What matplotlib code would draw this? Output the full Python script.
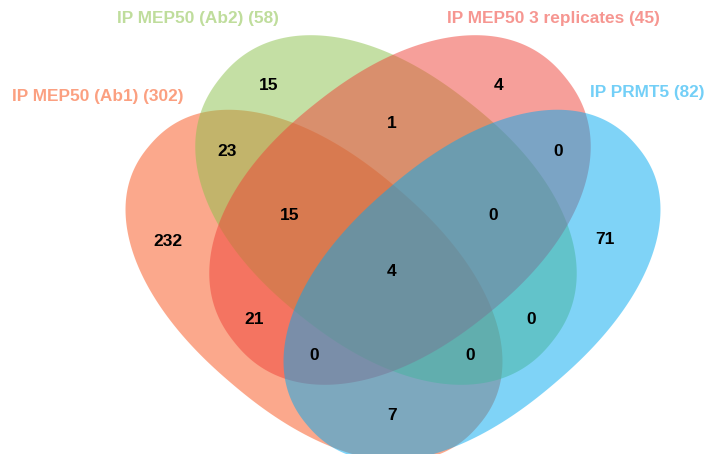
import numpy as np
import matplotlib.pyplot as plt
from matplotlib.patches import Polygon

# Set names, totals and colours
set_names = ['IP MEP50 (Ab1)', 'IP MEP50 (Ab2)', 'IP MEP50 3 replicates', 'IP PRMT5']
set_totals = [302, 58, 45, 82]
set_colors = ['#f9531a', '#8bc14b', '#ef4137', '#01a9f1']

# Region counts (membership key: Ab1, Ab2, rep, PRMT5)
region_keys = ['0100', '0010', '1100', '0110', '0011', '1000', '1110',
               '0111', '0001', '1111', '1010', '0101', '1011', '1101', '1001']
region_counts = [15, 4, 23, 1, 0, 232, 15, 0, 71, 4, 21, 0, 0, 0, 7]

# Layout (pixel coords, y down)
region_pos = [(269, 86), (499, 86), (227, 151), (392, 124), (558, 152),
              (168, 241), (290, 216), (493, 216), (605, 240), (392, 272),
              (254, 320), (531, 320), (314, 355), (470, 355), (392, 415)]
# center, semi-major, semi-minor, angle (deg)
shapes = [((314, 285.5), 216, 128, 40.5),
          ((386, 210), 212, 136, 38.5),
          ((400, 210), 212, 136, -38.5),
          ((472, 285.5), 216, 128, -40.5)]
title_pos = [(98, 96), (198, 18), (553, 19), (647, 92)]

plt.rcParams['font.family'] = ['Liberation Sans', 'DejaVu Sans']


def blob(center, a, b, ang, n=2.2):
    # slightly squarish ellipse
    t = np.linspace(0, 2 * np.pi, 400)
    c, s = np.cos(t), np.sin(t)
    u = a * np.sign(c) * np.abs(c) ** (2 / n)
    v = b * np.sign(s) * np.abs(s) ** (2 / n)
    r = np.deg2rad(ang)
    x = center[0] + u * np.cos(r) - v * np.sin(r)
    y = center[1] + u * np.sin(r) + v * np.cos(r)
    return np.column_stack([x, y])


fig = plt.figure(figsize=(7.07, 4.54), dpi=100)
ax = fig.add_axes([0, 0, 1, 1])
ax.set_xlim(0, 707)
ax.set_ylim(454, 0)
ax.axis('off')

for (center, a, b, ang), col in zip(shapes, set_colors):
    ax.add_patch(Polygon(blob(center, a, b, ang), closed=True, facecolor=col,
                         alpha=0.5, linewidth=0))

for (x, y), n in zip(region_pos, region_counts):
    ax.text(x, y, str(n), ha='center', va='center', fontsize=12.5,
            fontweight='bold', color='black')

for (x, y), name, tot, col in zip(title_pos, set_names, set_totals, set_colors):
    ax.text(x, y, f'{name} ({tot})', ha='center', va='center', fontsize=12.4,
            fontweight='bold', color=col, alpha=0.55)

fig.savefig('out.png', dpi=100)
